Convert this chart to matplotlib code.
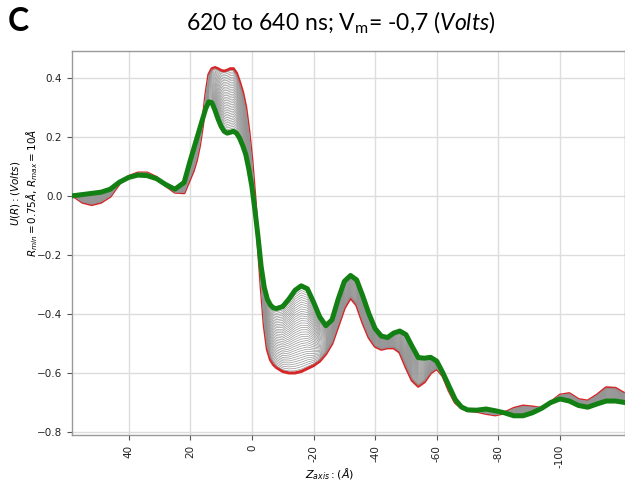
import matplotlib
matplotlib.use("Agg")
import matplotlib.pyplot as plt
from matplotlib.font_manager import FontProperties
import numpy as np

# z positions (Angstrom) shared by every curve
z = ([58, 55, 52, 49, 46, 43, 40, 37, 34, 31, 28, 25, 22]
     + [20, 19, 18, 17, 16, 15, 14, 13, 12, 11, 10, 9, 8, 7, 6, 5, 4, 3, 2, 1,
        0, -1, -2, -3, -4, -5, -6, -7, -8]
     + [-10, -12, -14, -16, -18, -20, -22, -24, -26, -28, -30, -32, -34, -36,
        -38, -40, -42, -44, -46, -48, -50, -52, -54, -56, -58, -60, -62, -64,
        -66, -68, -70]
     + [-73, -76, -79, -82, -85, -88, -91, -94, -97, -100, -103, -106, -109,
        -112, -115, -118, -121])

# first frame (620 ns) - red
u_start = ([0.0, -0.022, -0.03, -0.022, -0.002, 0.042, 0.065, 0.077, 0.077,
            0.062, 0.035, 0.012, 0.01]
           + [0.06, 0.085, 0.12, 0.17, 0.24, 0.34, 0.41, 0.43, 0.434, 0.43,
              0.424, 0.422, 0.425, 0.43, 0.43, 0.415, 0.385, 0.35, 0.30, 0.22,
              0.12, -0.01, -0.16, -0.31, -0.44, -0.52, -0.555, -0.572, -0.582]
           + [-0.595, -0.60, -0.60, -0.595, -0.585, -0.575, -0.56, -0.535, -0.50,
              -0.44, -0.38, -0.345, -0.37, -0.43, -0.48, -0.51, -0.52, -0.515,
              -0.515, -0.53, -0.58, -0.625, -0.645, -0.63, -0.60, -0.585, -0.61,
              -0.66, -0.70, -0.718, -0.727]
           + [-0.73, -0.737, -0.742, -0.735, -0.72, -0.712, -0.715, -0.72, -0.70,
              -0.675, -0.67, -0.69, -0.695, -0.675, -0.65, -0.652, -0.67])

# last frame (640 ns) - green
u_end = ([0.0, 0.004, 0.008, 0.012, 0.022, 0.046, 0.062, 0.07, 0.068, 0.058,
          0.038, 0.022, 0.045]
         + [0.12, 0.155, 0.19, 0.225, 0.26, 0.295, 0.318, 0.315, 0.29, 0.26,
            0.235, 0.218, 0.212, 0.215, 0.218, 0.212, 0.195, 0.17, 0.14, 0.09,
            0.03, -0.05, -0.14, -0.24, -0.31, -0.35, -0.37, -0.38, -0.382]
         + [-0.375, -0.35, -0.32, -0.305, -0.315, -0.36, -0.41, -0.44, -0.42,
            -0.35, -0.29, -0.27, -0.285, -0.34, -0.40, -0.45, -0.475, -0.48,
            -0.465, -0.458, -0.47, -0.51, -0.548, -0.55, -0.547, -0.56, -0.60,
            -0.645, -0.69, -0.715, -0.725]
         + [-0.726, -0.722, -0.728, -0.735, -0.745, -0.745, -0.735, -0.72, -0.70,
            -0.688, -0.695, -0.71, -0.716, -0.705, -0.695, -0.695, -0.70])

# intermediate frames, as fraction of the way from first to last
n_frames = 36
frac = [(i + 1) / (n_frames + 1) for i in range(n_frames)]

xticks = [40, 20, 0, -20, -40, -60, -80, -100]
yticks = [0.4, 0.2, 0.0, -0.2, -0.4, -0.6, -0.8]

plt.rcParams['mathtext.fontset'] = 'dejavusans'
plt.rcParams['mathtext.rm'] = 'Lato'
plt.rcParams['mathtext.it'] = 'Lato:italic'

fig = plt.figure(figsize=(6.25, 4.83), dpi=100)
ax = fig.add_axes([0.1152, 0.0994, 0.8848, 0.795])

zs = np.array(z)
a = np.array(u_start)
b = np.array(u_end)

ax.plot(zs, a, color='#d62728', lw=2.2, zorder=2)
for f in frac:
    ax.plot(zs, a + f * (b - a), color='#959595', lw=0.5, zorder=3)
ax.plot(zs, b, color='#138013', lw=3.6, zorder=4, solid_joinstyle='round')

ax.set_xlim(58.4, -121.1)
ax.set_ylim(-0.81, 0.49)
ax.set_xticks(xticks)
ax.set_xticklabels([str(t) for t in xticks], rotation=90, fontsize=7.5)
ax.set_yticks(yticks)
ax.tick_params(axis='y', labelsize=7.5)
ax.tick_params(colors='#555555', labelcolor='#222222', length=3.5, width=0.8)
ax.grid(True, color='#dddddd', lw=1)
ax.set_axisbelow(True)
for s in ax.spines.values():
    s.set_color('#999999')
    s.set_linewidth(1)

ax.set_xlabel(r'$Z_{axis}:(Å)$', fontsize=8)
ax.xaxis.set_label_coords(0.466, -0.083)
ax.set_ylabel('$U(R):(Volts)$\n$R_{min}=0.75Å,\\,R_{max}=10Å$', fontsize=7.5,
              linespacing=1.15)
ax.yaxis.set_label_coords(-0.058, 0.63)

tp = FontProperties(family='Lato', size=16.5, math_fontfamily='custom')
fig.text(0.545, 0.953, r'620 to 640 ns; V$_\mathrm{m}$= -0,7 $\mathit{(Volts)}$',
         fontproperties=tp, ha='center', va='center')
fig.text(0.012, 0.955, 'C', fontsize=23, fontweight='bold', family='Lato',
         ha='left', va='center')

fig.savefig('out.png', dpi=100)
